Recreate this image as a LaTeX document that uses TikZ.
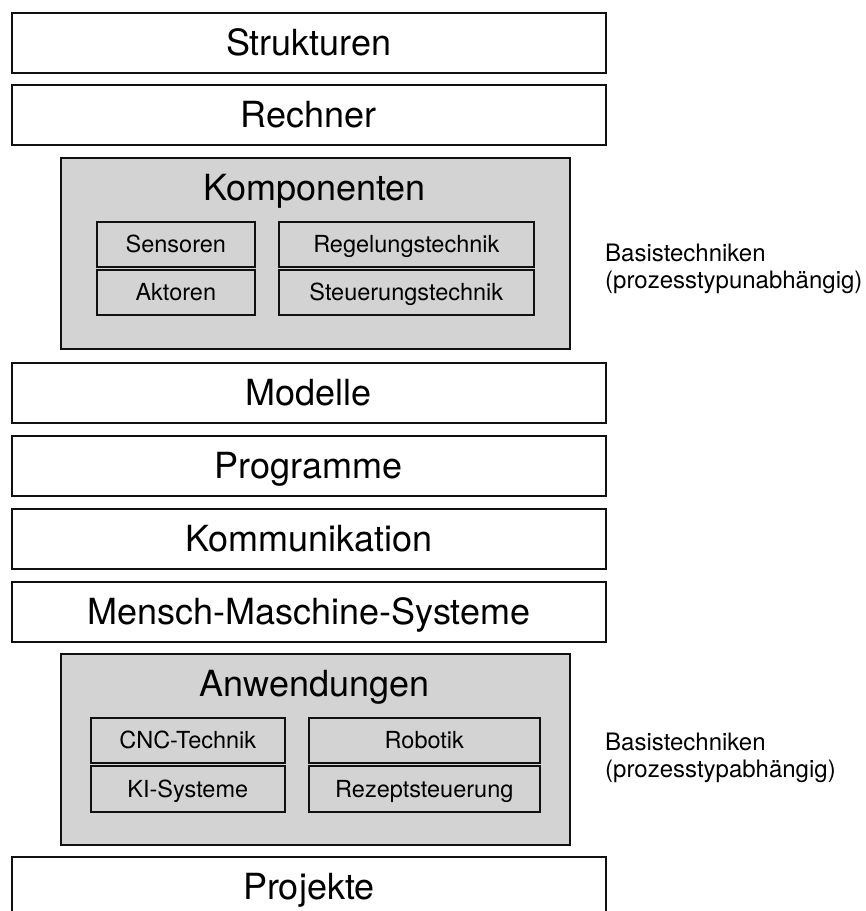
\documentclass[tikz,border=0pt]{standalone}
\usepackage{fontspec}
\setmainfont{TeX Gyre Heros}
\definecolor{grayfill}{HTML}{D3D3D3}
\definecolor{edge}{HTML}{111111}
\begin{document}
\begin{tikzpicture}[x=1pt,y=-1pt,
  layer/.style={draw=edge, line width=1.6pt, fill=white, anchor=north west,
    minimum width=594pt, minimum height=60pt, inner sep=0pt,
    text height=25.8pt, text depth=0pt, font=\fontsize{36}{40}\selectfont},
  group/.style={draw=edge, line width=1.6pt, fill=grayfill, anchor=north west,
    minimum width=509pt, minimum height=191pt, inner sep=0pt},
  grouptitle/.style={anchor=base, inner sep=0pt, font=\fontsize{36}{40}\selectfont},
  item/.style={draw=edge, line width=1.6pt, fill=grayfill, anchor=north west,
    minimum height=45pt, inner sep=0pt,
    text height=17pt, text depth=0pt, font=\fontsize{23.5}{27}\selectfont},
  sidenote/.style={anchor=north west, inner sep=0pt, align=left,
    font=\fontsize{24}{27}\selectfont}
]
\useasboundingbox (0,0) rectangle (866,911);
\clip (0,0) rectangle (866,911);

\node[layer] (strukturen) at (11,12) {Strukturen};
\node[layer] (rechner) at (11,84) {Rechner};

\node[group] (komp) at (60,157) {};
\node[grouptitle] (komptitle) at (314.5,200) {Komponenten};
\node[item, minimum width=158pt] (sensoren) at (96,221) {Sensoren};
\node[item, minimum width=158pt] (aktoren) at (96,269) {Aktoren};
\node[item, minimum width=255pt] (regel) at (278,221) {Regelungstechnik};
\node[item, minimum width=255pt] (steuer) at (278,269) {Steuerungstechnik};

\node[sidenote] (basis1) at (605,244) {Basistechniken\\(prozesstypunabhängig)};

\node[layer] (modelle) at (11,362) {Modelle};
\node[layer] (programme) at (11,435) {Programme};
\node[layer] (kommunikation) at (11,508) {Kommunikation};
\node[layer] (mms) at (11,581) {Mensch-Maschine-Systeme};

\node[group] (anw) at (60,653) {};
\node[grouptitle] (anwtitle) at (314.5,696) {Anwendungen};
\node[item, minimum width=194pt] (cnc) at (90,717) {CNC-Technik};
\node[item, minimum width=194pt, minimum height=46pt] (ki) at (90,765) {KI-Systeme};
\node[item, minimum width=231pt] (robotik) at (308,717) {Robotik};
\node[item, minimum width=231pt, minimum height=46pt] (rezept) at (308,765) {Rezeptsteuerung};

\node[sidenote] (basis2) at (605,733) {Basistechniken\\(prozesstypabhängig)};

\node[layer] (projekte) at (11,856) {Projekte};
\end{tikzpicture}
\end{document}
